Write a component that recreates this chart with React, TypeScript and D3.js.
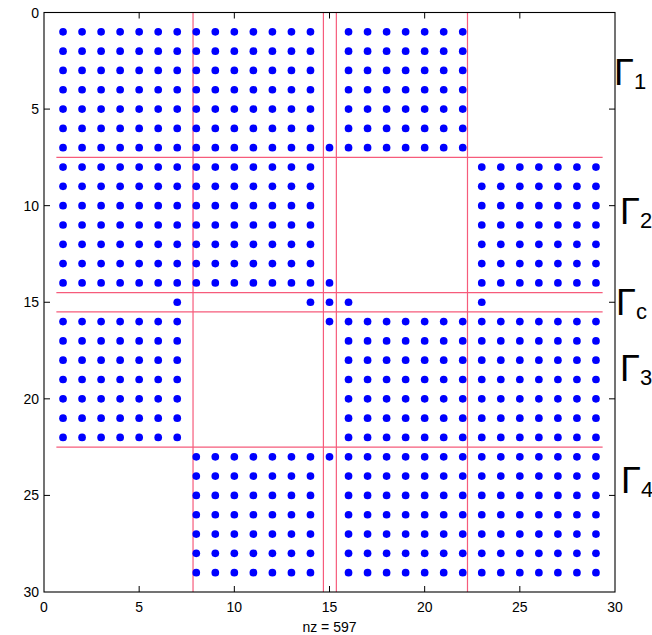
import React from 'react';
import * as d3 from 'd3';

// matrix size and block partition (rows/cols are 1-based)
const n = 29;
const groupNames = ['1', '2', 'c', '3', '4'];
const groupRanges = [[1, 7], [8, 14], [15, 15], [16, 22], [23, 29]];

// full 7x7 blocks that are non-zero: [row group, col group]
const blockPairs = [
  [0, 0], [0, 1], [0, 3],
  [1, 0], [1, 1], [1, 4],
  [3, 0], [3, 3], [3, 4],
  [4, 1], [4, 3], [4, 4],
];

// separator index and the entries it couples to
const sepIndex = 15;
const sepLinks = [7, 14, 16, 23];

// partition lines as drawn on the figure
const vLines = [7.83, 14.68, 15.36, 22.25];
const hLines = [7.5, 14.5, 15.5, 22.5];
const hLineSpan = [0.65, 29.35];

const ticks = [0, 5, 10, 15, 20, 25, 30];

// nonzero list
const nonzeros: [number, number][] = [];
blockPairs.forEach(([gi, gj]) => {
  const [r0, r1] = groupRanges[gi];
  const [c0, c1] = groupRanges[gj];
  for (let r = r0; r <= r1; r++) for (let c = c0; c <= c1; c++) nonzeros.push([r, c]);
});
sepLinks.forEach(k => {
  nonzeros.push([k, sepIndex]);
  nonzeros.push([sepIndex, k]);
});
nonzeros.push([sepIndex, sepIndex]);

const W = 652;
const H = 635;
const left = 44, right = 615, top = 12.5, bottom = 592;
const font = '"Liberation Sans", Arial, Helvetica, sans-serif';

// Γ label placement: [data y of glyph centre, x of glyph]
const labelPos = [[3.1, 614], [10.3, 620], [15.0, 616], [18.4, 620], [24.2, 621]];

export default function App() {
  const x = d3.scaleLinear().domain([0, n + 1]).range([left, right]);
  const y = d3.scaleLinear().domain([0, n + 1]).range([top, bottom]);
  const tl = 6;

  return (
    <svg width={W} height={H} style={{ position: 'absolute', left: 0, top: 0, background: '#fff' }}
      fontFamily={font}>
      <rect x={0} y={0} width={W} height={H} fill="#fff" />

      {vLines.map((v, i) => (
        <line key={'v' + i} x1={x(v)} x2={x(v)} y1={y(0)} y2={y(30)} stroke="#f65b7b" strokeWidth={1.2} />
      ))}
      {hLines.map((h, i) => (
        <line key={'h' + i} x1={x(hLineSpan[0])} x2={x(hLineSpan[1])} y1={y(h)} y2={y(h)} stroke="#f65b7b" strokeWidth={1.2} />
      ))}

      {nonzeros.map(([r, c], i) => (
        <circle key={i} cx={x(c)} cy={y(r)} r={3.85} fill="#0000ff" />
      ))}

      {/* axes box */}
      <rect x={left} y={top} width={right - left} height={bottom - top} fill="none" stroke="#000" strokeWidth={1.1} />
      {ticks.slice(1, -1).map(t => (
        <g key={'t' + t} stroke="#000" strokeWidth={1}>
          <line x1={x(t)} x2={x(t)} y1={bottom} y2={bottom - tl} />
          <line x1={x(t)} x2={x(t)} y1={top} y2={top + tl} />
          <line x1={left} x2={left + tl} y1={y(t)} y2={y(t)} />
          <line x1={right} x2={right - tl} y1={y(t)} y2={y(t)} />
        </g>
      ))}
      {ticks.map(t => (
        <text key={'xl' + t} x={x(t)} y={612} textAnchor="middle" fontSize={14}>{t}</text>
      ))}
      {ticks.map(t => (
        <text key={'yl' + t} x={39} y={Math.max(y(t), 7) + 5} textAnchor="end" fontSize={14}>{t}</text>
      ))}
      <text x={(left + right) / 2} y={632} textAnchor="middle" fontSize={14}>nz = {nonzeros.length}</text>

      {groupNames.map((g, i) => {
        const cy = y(labelPos[i][0]);
        const gx = labelPos[i][1];
        return (
          <g key={'g' + g}>
            <text x={gx} y={cy + 13} fontSize={36}>Γ</text>
            <text x={gx + 20} y={cy + 17} fontSize={22}>{g}</text>
          </g>
        );
      })}
    </svg>
  );
}
